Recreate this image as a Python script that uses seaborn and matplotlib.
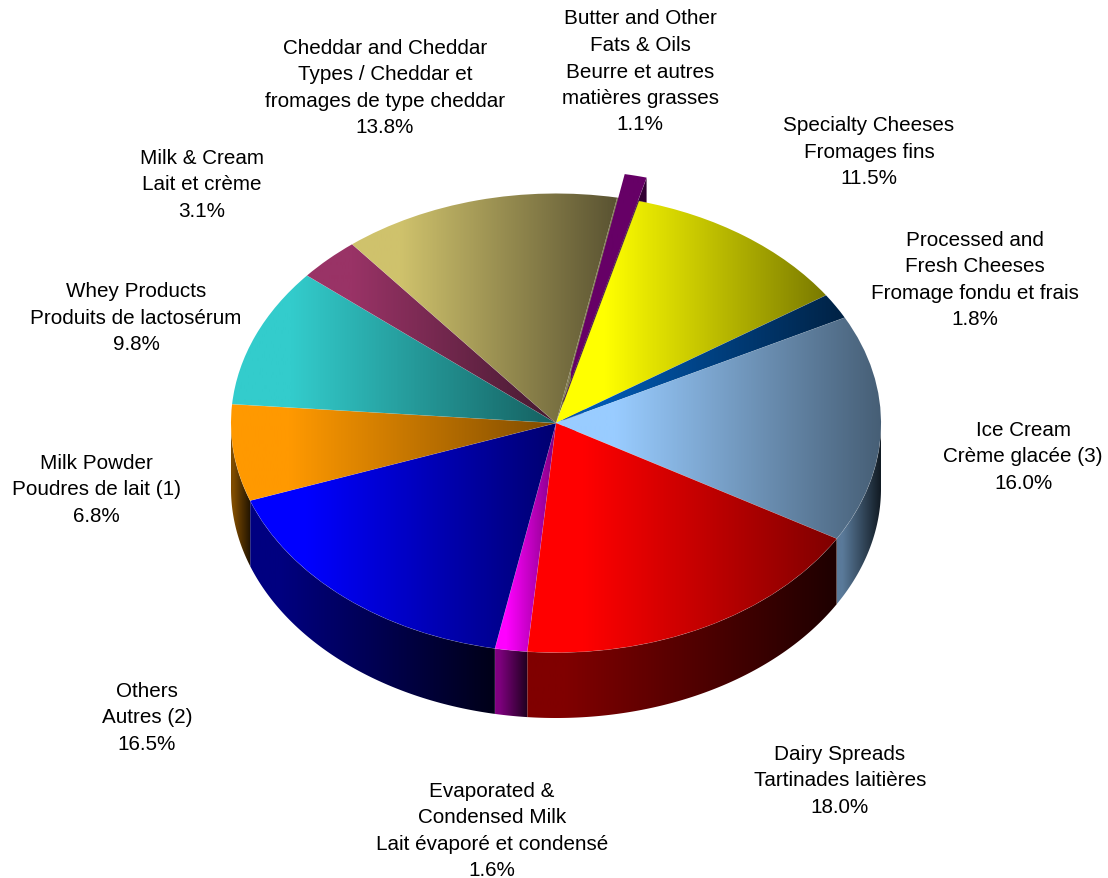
import numpy as np
import matplotlib
matplotlib.use("Agg")
import matplotlib.pyplot as plt
from matplotlib.patches import Polygon, Wedge
import seaborn as sns

# clockwise from the top, starting at Specialty Cheeses
names = [
    "Specialty Cheeses\nFromages fins",
    "Processed and\nFresh Cheeses\nFromage fondu et frais",
    "Ice Cream\nCrème glacée (3)",
    "Dairy Spreads\nTartinades laitières",
    "Evaporated &\nCondensed Milk\nLait évaporé et condensé",
    "Others\nAutres (2)",
    "Milk Powder\nPoudres de lait (1)",
    "Whey Products\nProduits de lactosérum",
    "Milk & Cream\nLait et crème",
    "Cheddar and Cheddar\nTypes / Cheddar et\nfromages de type cheddar",
    "Butter and Other\nFats & Oils\nBeurre et autres\nmatières grasses",
]
shares = [11.5, 1.8, 16.0, 18.0, 1.6, 16.5, 6.8, 9.8, 3.1, 13.8, 1.1]
explode = [0, 0, 0, 0, 0, 0, 0, 0, 0, 0, 0.105]

light = ["#FFFF00", "#0058B0", "#99CCFF", "#FF0000", "#FF00FF", "#0000FF",
         "#FF9900", "#33CCCC", "#993366", "#CFC26C", "#660066"]
dark = ["#7A7A00", "#002244", "#465E75", "#7F0000", "#7F007F", "#000070",
        "#7F4C00", "#156060", "#441A30", "#5A5332", "#660066"]
wall_left = ["#7F7F00", "#002C58", "#5A7A9A", "#800000", "#800080", "#000080",
             "#7F4C00", "#1A6666", "#4D1A33", "#6C6536", "#330033"]
wall_right = ["#202000", "#000B16", "#0F1820", "#1E0000", "#1E001E", "#000018",
              "#1E1200", "#061818", "#13060D", "#1A190D", "#330033"]

W, H = 1108, 879
CX, CY, RX, RY, DEPTH = 556, 424, 325, 229.5, 65.5
START = 14.8  # degrees clockwise from 12 o'clock


def gradient(ax, patch, x0, x1, c0, c1, flat=0.18):
    # horizontal colour ramp across the patch, clipped to its outline
    cmap = sns.blend_palette([c0, c1], as_cmap=True)
    ramp = np.clip((np.linspace(0, 1, 256) - flat) / (1 - flat), 0, 1)
    y0, y1 = ax.get_ylim()
    im = ax.imshow(ramp[None, :], cmap=cmap, vmin=0, vmax=1, aspect="auto",
                   extent=(x0, x1, y0, y1), zorder=patch.get_zorder(),
                   interpolation="bilinear")
    im.set_clip_path(patch)


sns.set_theme(style="white")
plt.rcParams["font.family"] = ["Liberation Sans", "DejaVu Sans"]

fig = plt.figure(figsize=(W / 100, H / 100), dpi=100, facecolor="white")
ax = fig.add_axes([0, 0, 1, 1])

wedges, _ = ax.pie(shares, startangle=90 - START, counterclock=False, explode=explode,
                   radius=1, wedgeprops=dict(facecolor="none", edgecolor=(1, 1, 1, 0.3),
                                             linewidth=0.5))
xlim = (-CX / RX, (W - CX) / RX)
ylim = ((CY - H) / RY, CY / RY)
ax.set_aspect("auto")
ax.set_xlim(xlim)
ax.set_ylim(ylim)
ax.axis("off")

drop = DEPTH / RY

# side walls of the pie, lower half only
for i, w in enumerate(wedges):
    if explode[i] > 0:
        continue
    a = np.radians(np.linspace(w.theta1, w.theta2, 300))
    a = a[np.sin(a) <= 0]
    if len(a) < 2:
        continue
    xs, ys = np.cos(a), np.sin(a)
    pts = np.r_[np.c_[xs, ys], np.c_[xs, ys - drop][::-1]]
    wall = Polygon(pts, closed=True, facecolor="none", edgecolor=(1, 1, 1, 0.2),
                   linewidth=0.5, zorder=1)
    ax.add_patch(wall)
    gradient(ax, wall, xs.min(), xs.max(), wall_left[i], wall_right[i], flat=0.12)

# where the slice was pulled out of: hole behind it, then its cut face
for i, w in enumerate(wedges):
    if explode[i] > 0:
        ax.add_patch(Wedge((0, 0), 1, w.theta1, w.theta2, facecolor="#6E6738",
                           edgecolor="none", zorder=0.5))
        cx, cy = w.center
        t = np.radians(w.theta1)
        rim = (cx + np.cos(t), cy + np.sin(t))
        ax.add_patch(Polygon([(cx, cy), rim, (rim[0], rim[1] - drop), (cx, cy - drop)],
                             closed=True, facecolor=wall_left[i], edgecolor="none", zorder=1))

# top faces, pulled out slice first so the yellow sits over it
order = sorted(range(len(wedges)), key=lambda k: -explode[k])
for z, i in enumerate(order):
    w = wedges[i]
    w.set_zorder(2 + z * 0.01)
    verts = w.get_path().vertices * w.r + np.array(w.center)
    gradient(ax, w, verts[:, 0].min(), verts[:, 0].max(), light[i], dark[i])

ax.set_xlim(xlim)
ax.set_ylim(ylim)

# label block centres, pixels from the top left
label_x = [869, 975, 1023, 840, 492, 147, 96, 136, 202, 385, 640]
label_y = [152, 280, 457, 781, 831, 718, 490, 318, 185, 88, 72]
for name, v, x, y in zip(names, shares, label_x, label_y):
    fig.text(x / W, 1 - y / H, f"{name}\n{v:.1f}%", ha="center", va="center",
             fontsize=14.9, color="black", linespacing=1.5)

fig.savefig("out.png", dpi=100, facecolor="white")
